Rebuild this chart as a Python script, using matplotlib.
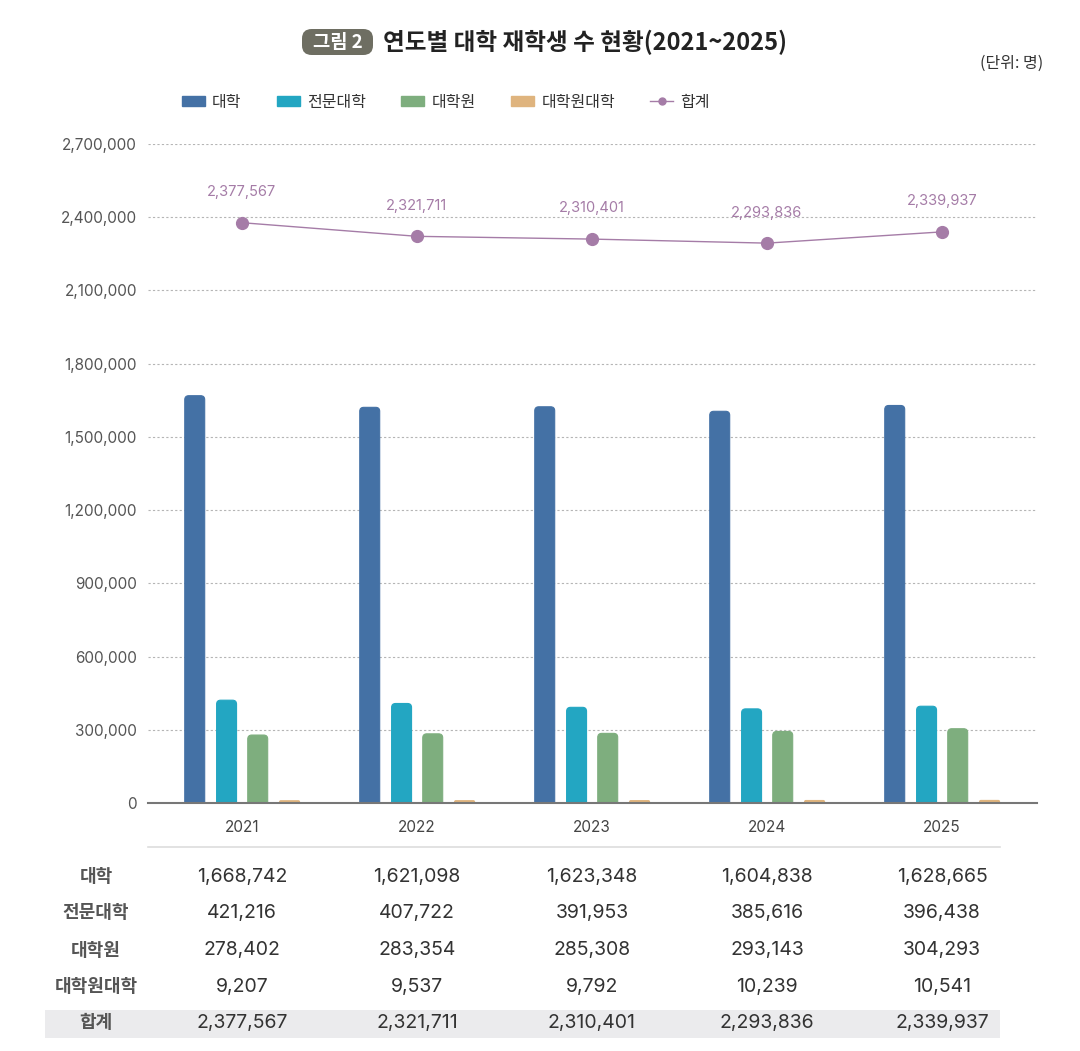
import numpy as np
import matplotlib.pyplot as plt
from matplotlib.patches import FancyBboxPatch, Rectangle
from matplotlib.lines import Line2D

plt.rcParams['font.family'] = ['Inter', 'Noto Sans CJK KR', 'DejaVu Sans']

years = ['2021', '2022', '2023', '2024', '2025']
series_names = ['대학', '전문대학', '대학원', '대학원대학']
univ = [1668742, 1621098, 1623348, 1604838, 1628665]
college = [421216, 407722, 391953, 385616, 396438]
grad = [278402, 283354, 285308, 293143, 304293]
grad_univ = [9207, 9537, 9792, 10239, 10541]
total = [2377567, 2321711, 2310401, 2293836, 2339937]
yticks = [0, 300000, 600000, 900000, 1200000, 1500000, 1800000, 2100000, 2400000, 2700000]

colors = ['#4471a5', '#23a6c2', '#7eae7e', '#dfb47e']
line_color = '#a57ca7'
kr = ['Noto Sans CJK KR', 'DejaVu Sans']

fig = plt.figure(figsize=(10.8, 10.51), dpi=100)
ax = fig.add_axes([148 / 1080, 1 - 803 / 1051, (1037 - 148) / 1080, (803 - 144) / 1051])
ax.set_xlim(-0.537, 4.543)
ax.set_ylim(0, 2700000)

x = np.arange(len(years))
offsets = [-0.27, -0.088, 0.09, 0.272]
width = 0.114
# rounded tops: 4 px radius, in data units
rx = 4 / 175
ry = 4 * 2700000 / 659
for vals, off, c, name in zip([univ, college, grad, grad_univ], offsets, colors, series_names):
    bars = ax.bar(x + off, vals, width=width, color=c, label=name, zorder=3)
    for b in bars:
        h = b.get_height()
        r = min(rx, h / ry * rx * 0.5)
        patch = FancyBboxPatch((b.get_x(), -r * ry / rx), b.get_width(), h + r * ry / rx,
                               boxstyle=f'round,pad=0,rounding_size={r}',
                               mutation_aspect=ry / rx, facecolor=c, edgecolor=c,
                               linewidth=0.8, zorder=3)
        ax.add_patch(patch)
        b.set_visible(False)

ax.plot(x, total, color=line_color, lw=1, marker='o', markersize=8.5, zorder=4, label='합계')
for xi, v in zip(x, total):
    ax.annotate(f'{v:,}', (xi, v), xytext=(0, 17), textcoords='offset points',
                ha='center', va='bottom', fontsize=10.5, color=line_color)

ax.set_yticks(yticks)
ax.set_yticklabels([f'{t:,}' for t in yticks], fontsize=11, color='#555555')
ax.grid(axis='y', color='#b5b5b5', linestyle=(0, (2, 2)), linewidth=0.8, zorder=0)
ax.tick_params(axis='y', length=0, pad=8)
ax.tick_params(axis='x', length=0, pad=12)
ax.set_xticks(x)
ax.set_xticklabels(years, fontsize=11, color='#444444')
for s in ['top', 'right', 'left']:
    ax.spines[s].set_visible(False)
ax.spines['bottom'].set_color('#777777')
ax.spines['bottom'].set_linewidth(1.5)
ax.spines['bottom'].set_zorder(5)

# legend
handles = [Rectangle((0, 0), 1, 1, color=c) for c in colors]
handles.append(Line2D([0], [0], color=line_color, lw=1, marker='o', markersize=5))
fig.legend(handles, series_names + ['합계'], loc='center', ncol=5,
           bbox_to_anchor=(446 / 1080, 1 - 102 / 1051), frameon=False,
           prop={'family': kr, 'size': 11.5}, handlelength=1.45, handleheight=0.65,
           columnspacing=2.2, handletextpad=0.45, labelcolor='#333333')

# title
fig.patches.append(FancyBboxPatch((302 / 1080, 1 - 55 / 1051), 71 / 1080, 26 / 1051,
                                  boxstyle='round,pad=0,rounding_size=0.009',
                                  transform=fig.transFigure, facecolor='#6e6e62',
                                  edgecolor='none'))
fig.text(337.5 / 1080, 1 - 42 / 1051, '그림 2', ha='center', va='center',
         fontsize=13.5, fontweight='bold', color='white', family=kr)
fig.text(383 / 1080, 1 - 42 / 1051, '연도별 대학 재학생 수 현황(2021~2025)', ha='left',
         va='center', fontsize=17, fontweight='bold', color='#222222', family=kr)
fig.text(1043 / 1080, 1 - 63 / 1051, '(단위: 명)', ha='right', va='center',
         fontsize=11.5, color='#333333', family=kr)

# table
fig.add_artist(Line2D([148 / 1080, 1000 / 1080], [1 - 847 / 1051] * 2,
                      transform=fig.transFigure, color='#dddddd', lw=1.2))
fig.patches.append(Rectangle((45 / 1080, 1 - 1038 / 1051), 955 / 1080, 28 / 1051,
                             transform=fig.transFigure, facecolor='#ebebed',
                             edgecolor='none', zorder=0))
rows = [('대학', univ), ('전문대학', college), ('대학원', grad),
        ('대학원대학', grad_univ), ('합계', total)]
row_y = [877, 913, 950, 987, 1023]
for (label, vals), ry_ in zip(rows, row_y):
    fy = 1 - ry_ / 1051
    fig.text(96 / 1080, fy, label, ha='center', va='center', fontsize=13,
             fontweight='bold', color='#555555', family=kr)
    for xi, v in zip(x, vals):
        px = ax.transData.transform((xi, 0))[0]
        fig.text(px / fig.bbox.width, fy, f'{v:,}', ha='center', va='center',
                 fontsize=14, color='#333333')

fig.savefig('out.png', dpi=100)
